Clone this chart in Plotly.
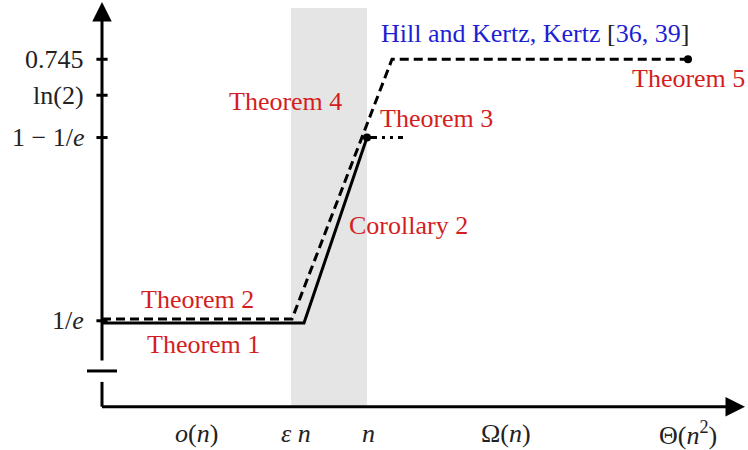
import math
import plotly.graph_objects as go

# schematic x positions (origin at the vertical axis)
x_tick_pos = [94, 194, 266, 404, 586]
x_tick_text = ["<i>o</i>(<i>n</i>)", "<i>ε n</i>", "<i>n</i>", "Ω(<i>n</i>)", "Θ(<i>n</i><sup>2</sup>)"]

# y levels
y_tick_vals = [1 / math.e, 1 - 1 / math.e, math.log(2), 0.745]
y_tick_text = ["1/<i>e</i>", "1 − 1/<i>e</i>", "ln(2)", "0.745"]

# lower bound curve (Theorem 1 / Corollary 2)
lower_x = [0, 202, 265]
lower_y = [0.3647, 0.3647, 1 - 1 / math.e]
# Theorem 3 extension
thm3_x = [265, 301]
thm3_y = [1 - 1 / math.e, 1 - 1 / math.e]
# upper bound curve (Theorem 2 / Theorem 4 / Hill and Kertz)
upper_x = [0, 190, 290, 586]
upper_y = [0.3705, 0.3705, 0.745, 0.745]

# plot frame
X_MIN, X_MAX = -102, 646
Y_MIN, Y_MAX = 0.1815, 0.8305
Y_AXIS_BASE = 0.2439
Y_BREAK_LO, Y_BREAK_HI, Y_BREAK_BAR = 0.2797, 0.3085, 0.2955
Y_TOP = 0.8276
X_RIGHT = 643
BAND = (189, 265, 0.8190)

RED = "#d41e1e"
BLUE = "#1e1ed4"
INK = "#222222"
FONT = "Liberation Serif"
FS = 26

fig = go.Figure()

fig.add_shape(type="rect", x0=BAND[0], x1=BAND[1], y0=Y_AXIS_BASE, y1=BAND[2],
              fillcolor="#e5e5e5", line=dict(width=0), layer="below")

fig.add_trace(go.Scatter(x=upper_x, y=upper_y, mode="lines",
                         line=dict(color="black", width=3, dash="9px,5px")))
fig.add_trace(go.Scatter(x=lower_x, y=lower_y, mode="lines",
                         line=dict(color="black", width=3)))
fig.add_trace(go.Scatter(x=thm3_x, y=thm3_y, mode="lines",
                         line=dict(color="black", width=3, dash="10px,5px,3px,5px,3px,5px")))
fig.add_trace(go.Scatter(x=[lower_x[-1], upper_x[-1]], y=[lower_y[-1], upper_y[-1]],
                         mode="markers", marker=dict(color="black", size=8)))

# y ticks
fig.add_trace(go.Scatter(x=[0] * len(y_tick_vals), y=y_tick_vals, mode="markers",
                         marker=dict(symbol="line-ew-open", size=8, color="black",
                                     line=dict(color="black", width=3))))

# axes
fig.add_shape(type="line", x0=0, x1=0, y0=Y_AXIS_BASE, y1=Y_BREAK_LO,
              line=dict(color="black", width=3))
fig.add_shape(type="line", x0=-15, x1=15, y0=Y_BREAK_BAR, y1=Y_BREAK_BAR,
              line=dict(color="black", width=3))
fig.add_annotation(x=0, y=Y_TOP, ax=0, ay=Y_BREAK_HI, xref="x", yref="y",
                   axref="x", ayref="y", text="", showarrow=True,
                   arrowhead=2, arrowsize=1.3, arrowwidth=3, arrowcolor="black")
fig.add_annotation(x=X_RIGHT, y=Y_AXIS_BASE, ax=-1.5, ay=Y_AXIS_BASE, xref="x", yref="y",
                   axref="x", ayref="y", text="", showarrow=True,
                   arrowhead=2, arrowsize=1.3, arrowwidth=3, arrowcolor="black")

# tick labels
for v, t in zip(y_tick_vals, y_tick_text):
    fig.add_annotation(x=-16, y=v, text=t, showarrow=False, xanchor="right",
                       yanchor="middle", font=dict(family=FONT, size=FS, color=INK))
for xp, t in zip(x_tick_pos, x_tick_text):
    fig.add_annotation(x=xp, y=0.2049, text=t, showarrow=False, xanchor="center",
                       yanchor="middle", font=dict(family=FONT, size=FS, color=INK))

# result labels
labels = [
    (95, 0.3981, "Theorem 2", "center", RED),
    (101, 0.3332, "Theorem 1", "center", RED),
    (183, 0.6848, "Theorem 4", "center", RED),
    (276, 0.6603, "Theorem 3", "left", RED),
    (245, 0.5046, "Corollary 2", "left", RED),
    (586, 0.7179, "Theorem 5", "center", RED),
]
for xp, yp, t, anc, col in labels:
    fig.add_annotation(x=xp, y=yp, text=t, showarrow=False, xanchor=anc,
                       yanchor="middle", font=dict(family=FONT, size=FS, color=col))
fig.add_annotation(x=277, y=0.7829, showarrow=False, xanchor="left", yanchor="middle",
                   text="Hill and Kertz, Kertz <span style='color:#222'>[</span>36, 39<span style='color:#222'>]</span>",
                   font=dict(family=FONT, size=FS, color=BLUE))

fig.update_layout(
    width=748, height=450,
    margin=dict(l=0, r=0, t=0, b=0),
    plot_bgcolor="white", paper_bgcolor="white",
    showlegend=False,
    xaxis=dict(range=[X_MIN, X_MAX], visible=False),
    yaxis=dict(range=[Y_MIN, Y_MAX], visible=False),
)
fig.write_html("out.html", config={"displayModeBar": False},
               post_script="document.body.style.margin='0';document.body.style.overflow='hidden';")
